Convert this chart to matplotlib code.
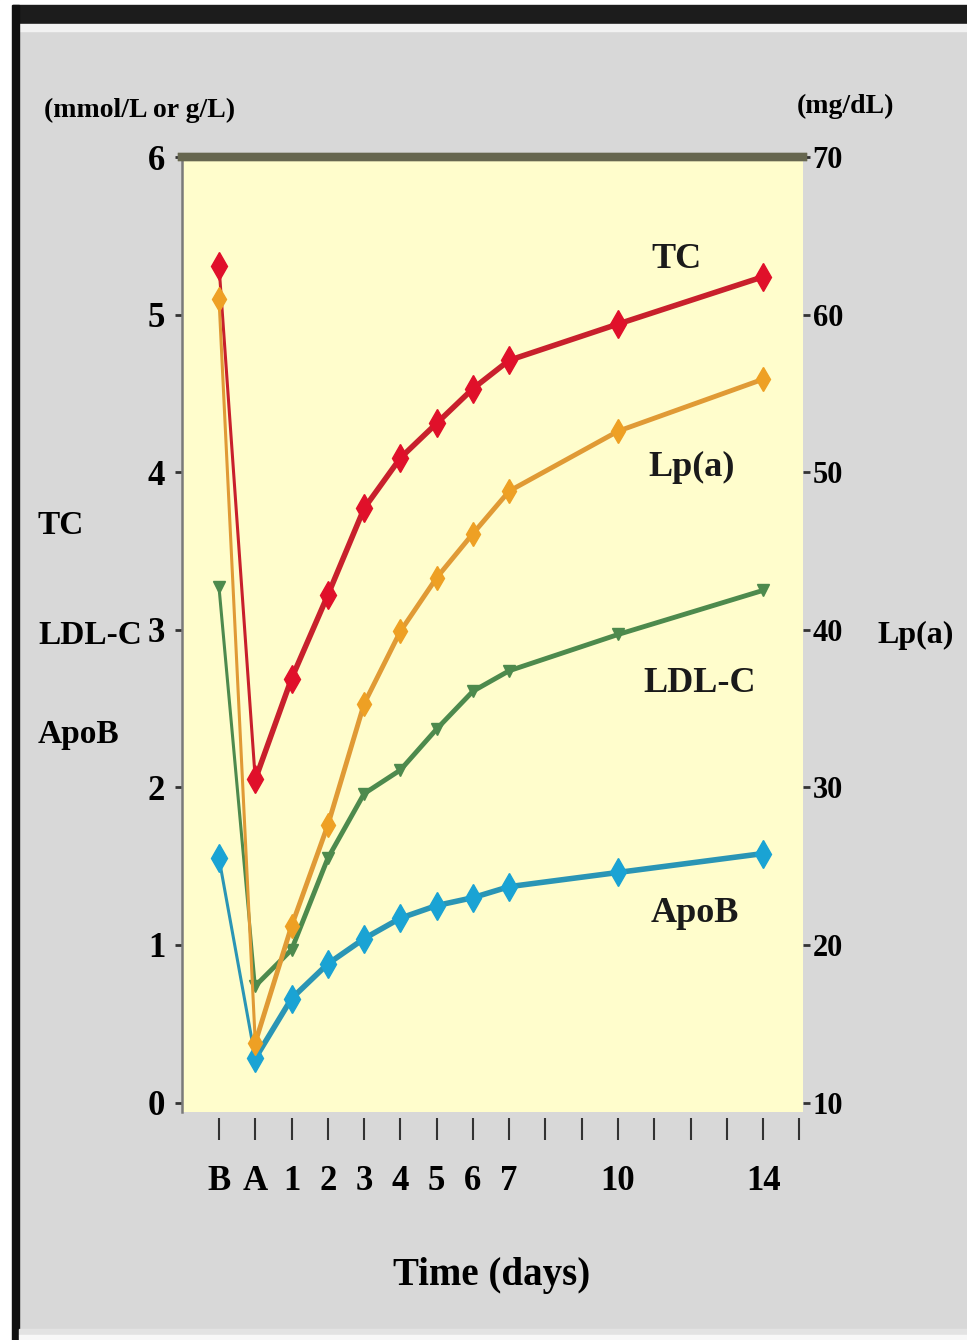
import matplotlib.pyplot as plt
from matplotlib.patches import Rectangle

# x positions: B = baseline, A = apheresis, then days after
days = [-1, 0, 1, 2, 3, 4, 5, 6, 7, 10, 14]
day_labels = ['B', 'A', '1', '2', '3', '4', '5', '6', '7', '10', '14']
tick_days = list(range(-1, 16))

# left axis (mmol/L or g/L)
tc = [5.31, 2.05, 2.69, 3.22, 3.77, 4.09, 4.31, 4.53, 4.71, 4.94, 5.24]
ldl_c = [3.27, 0.74, 0.97, 1.55, 1.96, 2.11, 2.37, 2.61, 2.74, 2.97, 3.25]
apob = [1.55, 0.28, 0.66, 0.88, 1.04, 1.17, 1.25, 1.30, 1.37, 1.46, 1.58]
# right axis (mg/dL)
lpa = [61.0, 13.8, 21.2, 27.6, 35.3, 39.9, 43.3, 46.1, 48.8, 52.6, 55.9]

left_ticks = [0, 1, 2, 3, 4, 5, 6]
right_ticks = [10, 20, 30, 40, 50, 60, 70]

W, H = 967, 1340
fig = plt.figure(figsize=(W / 100, H / 100), dpi=100, facecolor='#d8d8d8')

def px_rect(x0, y0, x1, y1, color):
    # rectangle given in image pixels (origin top-left)
    fig.patches.append(Rectangle((x0 / W, 1 - y1 / H), (x1 - x0) / W, (y1 - y0) / H,
                                 transform=fig.transFigure, color=color, zorder=0))

px_rect(0, 0, W, 5, 'white')
px_rect(0, 5, W, 24, '#1c1c1c')
px_rect(0, 24, W, 31, '#f2f2f2')
px_rect(0, 0, 12, H, 'white')
px_rect(12, 5, 19, H, '#111111')
px_rect(19, 1329, W, 1335, '#e3e3e3')
px_rect(19, 1335, W, H, '#f8f8f8')

ax = fig.add_axes([182 / W, 1 - 1112 / H, (803 - 182) / W, (1112 - 157) / H])
ax.set_facecolor('#fffdcc')
ax2 = ax.twinx()

ax.set_xlim(-2.02, 15.1)
ax.set_ylim(-0.06, 6.0)
ax2.set_ylim(9.4, 70)

serif = ['Liberation Serif', 'DejaVu Serif']

def draw(a, y, line_col, mark_col, marker, ms, lw):
    a.plot(days[:2], y[:2], color=line_col, lw=2.2, zorder=3)
    a.plot(days[1:], y[1:], color=line_col, lw=lw, zorder=3)
    a.plot(days, y, ls='none', marker=marker, ms=ms, color=mark_col,
           markeredgecolor=mark_col, zorder=4)

draw(ax, ldl_c, '#4d8a4d', '#4d8a4d', 'v', 9, 3.5)
draw(ax, apob, '#2a95b5', '#1aa3d4', 'd', 14, 4.0)
draw(ax, tc, '#c8202c', '#e0102a', 'd', 14, 4.0)
draw(ax2, lpa, '#e09a35', '#eea024', 'd', 12, 3.5)

# series names inside plot
for name, xx, yy in [('TC', 11.62, 5.35), ('Lp(a)', 12.03, 4.03),
                     ('LDL-C', 12.25, 2.66), ('ApoB', 12.11, 1.20)]:
    ax.text(xx, yy, name, ha='center', va='center', fontsize=26,
            fontweight='bold', family=serif, color='#1a1a1a', zorder=5)

# spines
for a in (ax, ax2):
    a.spines['right'].set_visible(False)
    a.spines['bottom'].set_visible(False)
    a.spines['top'].set_color('#66664f')
    a.spines['top'].set_linewidth(6)
ax.spines['left'].set_color('#7a7a7a')
ax.spines['left'].set_linewidth(1.8)
ax2.spines['left'].set_visible(False)
ax.spines['bottom'].set_position(('outward', 4))

ax.set_xticks(tick_days)
ax.set_xticklabels([day_labels[days.index(d)] if d in days else '' for d in tick_days],
                   fontsize=25, fontweight='bold', family=serif)
ax.tick_params(axis='x', length=16, width=1.5, color='#333333', pad=18)

ax.set_yticks(left_ticks)
ax.set_yticklabels([str(v) for v in left_ticks], fontsize=25, fontweight='bold', family=serif)
ax.tick_params(axis='y', length=5, width=2, color='#333333', pad=7)

ax2.set_yticks(right_ticks)
ax2.set_yticklabels([str(v) for v in right_ticks], fontsize=22, fontweight='bold', family=serif)
ax2.tick_params(axis='y', length=5, width=2, color='#333333', pad=2)

# outer labels
fig.text(140 / W, 1 - 110 / H, '(mmol/L or g/L)', ha='center', va='center',
         fontsize=20, fontweight='bold', family=serif)
fig.text(845 / W, 1 - 106 / H, '(mg/dL)', ha='center', va='center',
         fontsize=20, fontweight='bold', family=serif)
for name, yy in [('TC', 525), ('LDL-C', 635), ('ApoB', 735)]:
    fig.text(38 / W, 1 - yy / H, name, ha='left', va='center',
             fontsize=24, fontweight='bold', family=serif)
fig.text(916 / W, 1 - 635 / H, 'Lp(a)', ha='center', va='center',
         fontsize=23, fontweight='bold', family=serif)
fig.text(492 / W, 1 - 1275 / H, 'Time (days)', ha='center', va='center',
         fontsize=28, fontweight='bold', family=serif)

fig.savefig('out.png', dpi=100, facecolor=fig.get_facecolor())
